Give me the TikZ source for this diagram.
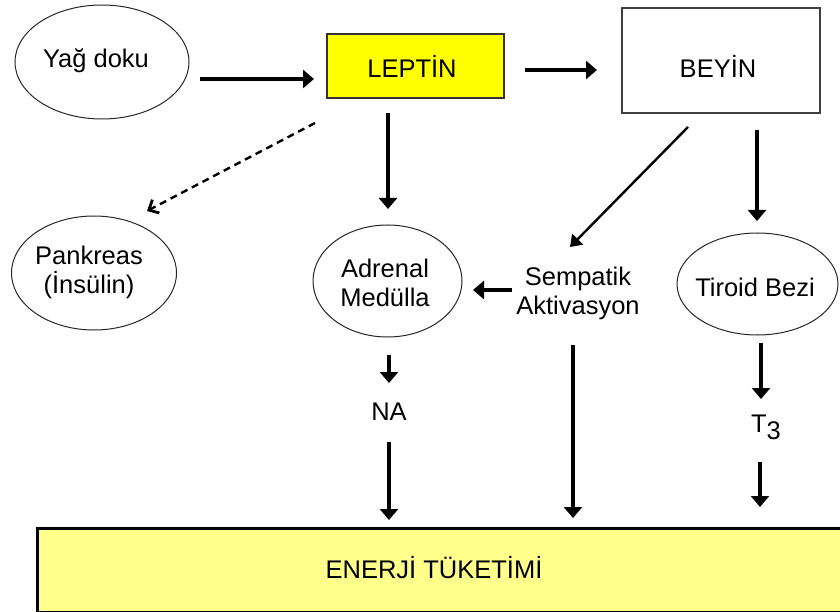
\documentclass[tikz,border=0pt]{standalone}
\usepackage{fontspec}
\setmainfont{Liberation Sans}
\usetikzlibrary{arrows.meta,shapes.geometric}
\definecolor{leptinyellow}{HTML}{FFFF00}
\definecolor{paleyellow}{HTML}{FFFF8C}
\begin{document}
\begin{tikzpicture}[x=1pt,y=-1pt,
  txt/.style={font=\fontsize{25.5}{29}\selectfont, align=center, inner sep=0pt},
  oval/.style={ellipse, draw=black!85, line width=1pt, inner sep=0pt},
  arr/.style={line width=3.2pt, -{Triangle[width=18pt,length=11pt]}},
  diagarr/.style={line width=2.4pt, -{Triangle[width=15pt,length=11pt]}},
  dasharr/.style={line width=2.4pt, dash pattern=on 7pt off 5pt, -{Straight Barb[width=15pt,length=8pt,line width=2.8pt]}},
]
\useasboundingbox (0,0) rectangle (840,612);

% shapes
\node[oval, minimum width=174pt, minimum height=114pt] (yag) at (102,62) {};
\node[txt] (yagt) at (96,61) {Yağ doku};

\node[draw=black!80, line width=2pt, fill=leptinyellow, minimum width=177pt, minimum height=64pt, inner sep=0pt] (leptin) at (415.5,66) {};
\node[txt] (leptint) at (412,66) {LEPTİN};

\node[draw=black!75, line width=1.8pt, fill=white, minimum width=198pt, minimum height=105pt, inner sep=0pt] (beyin) at (721,60.5) {};
\node[txt] (beyint) at (718,66) {BEYİN};

\node[oval, minimum width=165pt, minimum height=114pt] (pank) at (94,273) {};
\node[txt] (pankt) at (89,272) {Pankreas\\(İnsülin)};

\node[oval, minimum width=149pt, minimum height=112pt] (adr) at (387.5,281) {};
\node[txt] (adrt) at (385,283) {Adrenal\\Medülla};

\node[txt] (semp) at (578,293) {Sempatik\\Aktivasyon};

\node[oval, minimum width=161pt, minimum height=102pt] (tir) at (757.5,284) {};
\node[txt] (tirt) at (755,287) {Tiroid Bezi};

\node[txt] (na) at (389,412) {NA};
\node[txt] (t3) at (766,427) {T\raisebox{-7pt}{3}};

\node[draw=black, line width=3pt, fill=paleyellow, minimum width=814pt, minimum height=84pt, inner sep=0pt, anchor=north west] (energy) at (36,527) {};
\node[txt] (energyt) at (434,568) {ENERJİ TÜKETİMİ};

% connector end points
\coordinate (yagE) at (200,79);
\coordinate (lepW) at (314,79);
\coordinate (lepE) at (525,70);
\coordinate (beyW) at (597,70);
\coordinate (lepSW) at (315,123);
\coordinate (pankNE) at (147,211);
\coordinate (lepS) at (388,113);
\coordinate (adrN) at (388,209);
\coordinate (beyS1) at (688,127);
\coordinate (sempN) at (570,247);
\coordinate (beyS2) at (757,130);
\coordinate (tirN) at (757,221);
\coordinate (sempW) at (512,290);
\coordinate (adrE) at (473,290);
\coordinate (adrS) at (389,355);
\coordinate (naN) at (389,383);
\coordinate (naS) at (389,442);
\coordinate (enNA) at (389,520);
\coordinate (sempS) at (573,345);
\coordinate (enS) at (573,518);
\coordinate (tirS) at (761,343);
\coordinate (t3N) at (761,399);
\coordinate (t3S) at (760,462);
\coordinate (enT) at (760,507);

% connectors
\draw[arr] (yagE) -- (lepW);
\draw[arr] (lepE) -- (beyW);
\draw[dasharr] (lepSW) -- (pankNE);
\draw[arr] (lepS) -- (adrN);
\draw[diagarr] (beyS1) -- (sempN);
\draw[arr] (beyS2) -- (tirN);
\draw[arr] (sempW) -- (adrE);
\draw[arr] (adrS) -- (naN);
\draw[arr] (naS) -- (enNA);
\draw[arr] (sempS) -- (enS);
\draw[arr] (tirS) -- (t3N);
\draw[arr] (t3S) -- (enT);
\end{tikzpicture}
\end{document}
